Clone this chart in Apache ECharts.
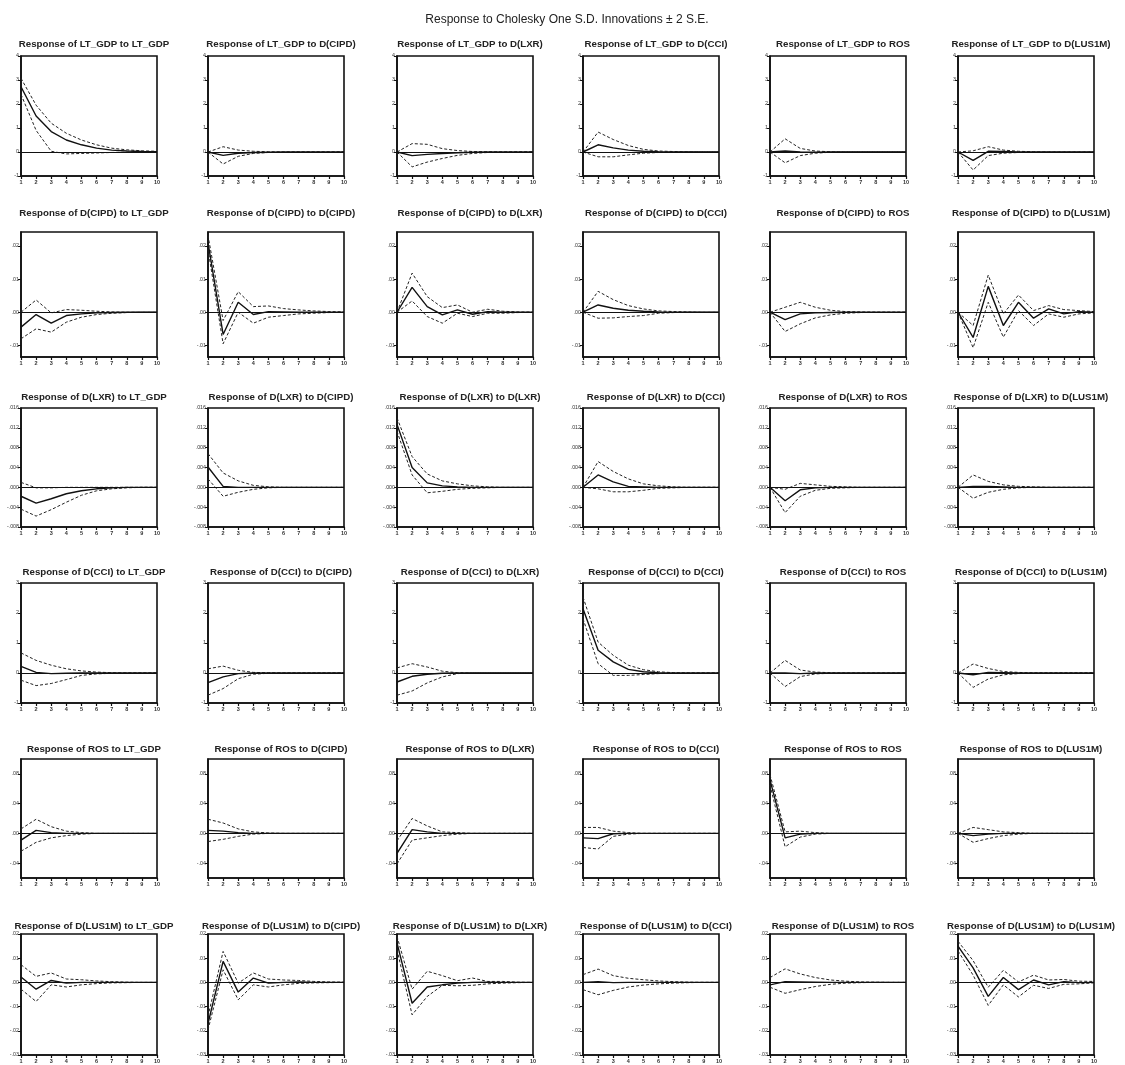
<!DOCTYPE html>
<html>
<head>
<meta charset="utf-8">
<script src="https://cdn.jsdelivr.net/npm/echarts@6/dist/echarts.min.js"></script>
<style>html,body{margin:0;padding:0;background:#fff;}#c{width:1125px;height:1065px;}</style>
</head>
<body>
<div id="c"></div>
<script>
// ---------- DATA ----------
var variables = ['LT_GDP', 'D(CIPD)', 'D(LXR)', 'D(CCI)', 'ROS', 'D(LUS1M)'];
var periods = [1, 2, 3, 4, 5, 6, 7, 8, 9, 10];
var mainTitle = 'Response to Cholesky One S.D. Innovations \u00B1 2 S.E.';

// Response of LT_GDP to each shock (rows of 10 periods, one per shock)
var resp_LT_GDP = [
  [2.72, 1.5, 0.85, 0.5, 0.3, 0.16, 0.08, 0.04, 0.02, 0.01],
  [0, -0.14, -0.05, -0.02, -0.01, 0, 0, 0, 0, 0],
  [0, -0.15, -0.1, -0.06, -0.03, -0.01, 0, 0, 0, 0],
  [0, 0.3, 0.17, 0.08, 0.03, 0.01, 0, 0, 0, 0],
  [0, 0.04, 0.0, -0.01, 0, 0, 0, 0, 0, 0],
  [0, -0.35, 0.03, 0.02, 0.0, 0, 0, 0, 0, 0]
];
var upper_LT_GDP = [
  [3.07, 1.95, 1.2, 0.78, 0.5, 0.3, 0.16, 0.09, 0.05, 0.03],
  [0, 0.22, 0.08, 0.03, 0.01, 0, 0, 0, 0, 0],
  [0, 0.35, 0.32, 0.14, 0.06, 0.02, 0.01, 0, 0, 0],
  [0, 0.83, 0.52, 0.27, 0.11, 0.04, 0.02, 0.01, 0, 0],
  [0, 0.55, 0.15, 0.04, 0.01, 0, 0, 0, 0, 0],
  [0, 0.05, 0.22, 0.08, 0.03, 0.01, 0, 0, 0, 0]
];
var lower_LT_GDP = [
  [2.4, 0.9, 0.03, -0.08, -0.06, -0.04, -0.02, -0.01, 0, 0],
  [0, -0.5, -0.18, -0.06, -0.02, -0.01, 0, 0, 0, 0],
  [0, -0.62, -0.42, -0.27, -0.14, -0.06, -0.02, -0.01, 0, 0],
  [0, -0.2, -0.2, -0.12, -0.05, -0.02, -0.01, 0, 0, 0],
  [0, -0.45, -0.15, -0.05, -0.01, 0, 0, 0, 0, 0],
  [0, -0.75, -0.15, -0.05, -0.02, -0.01, 0, 0, 0, 0]
];

var resp_D_CIPD = [
  [-0.0045, -0.0007, -0.0033, -0.001, -0.0005, -0.0002, -0.0001, 0, 0, 0],
  [0.021, -0.0067, 0.003, -0.0007, 0.0002, 0.0001, 0, 0, 0, 0],
  [0, 0.0075, 0.0017, -0.0008, 0.0007, -0.0006, 0.0002, 0, 0, 0],
  [0, 0.0022, 0.0012, 0.0006, 0.0003, 0.0001, 0, 0, 0, 0],
  [0, -0.0022, -0.0005, -0.0002, -0.0001, 0, 0, 0, 0, 0],
  [0, -0.0076, 0.0078, -0.004, 0.003, -0.0018, 0.001, -0.0005, 0.0002, 0]
];
var upper_D_CIPD = [
  [0, 0.0037, -0.0002, 0.0008, 0.0006, 0.0003, 0.0001, 0, 0, 0],
  [0.0232, -0.0025, 0.0062, 0.0017, 0.0019, 0.0011, 0.0007, 0.0004, 0.0002, 0.0001],
  [0, 0.0118, 0.0047, 0.0014, 0.0022, 0.0, 0.0009, 0.0003, 0.0001, 0],
  [0, 0.0063, 0.0038, 0.002, 0.001, 0.0004, 0.0002, 0.0001, 0, 0],
  [0, 0.0015, 0.003, 0.0015, 0.0006, 0.0002, 0.0001, 0, 0, 0],
  [0, -0.004, 0.0112, -0.0005, 0.0052, 0.0005, 0.002, 0.0008, 0.0005, 0.0002]
];
var lower_D_CIPD = [
  [-0.008, -0.005, -0.006, -0.003, -0.0015, -0.0007, -0.0003, -0.0001, 0, 0],
  [0.019, -0.0095, 0.0, -0.0033, -0.0015, -0.001, -0.0005, -0.0003, -0.0001, 0],
  [0, 0.0034, -0.0013, -0.0033, -0.0003, -0.0013, -0.0003, -0.0003, -0.0001, 0],
  [0, -0.0018, -0.0017, -0.0013, -0.001, -0.0003, -0.0001, 0, 0, 0],
  [0, -0.0058, -0.0035, -0.0017, -0.0008, -0.0003, -0.0001, 0, 0, 0],
  [0, -0.0107, 0.003, -0.0075, 0.0005, -0.004, -0.0005, -0.0015, -0.0005, -0.0002]
];

var resp_D_LXR = [
  [-0.0018, -0.0032, -0.0023, -0.0013, -0.0007, -0.0003, -0.0001, 0, 0, 0],
  [0.0041, 0.0002, 0, 0, 0, 0, 0, 0, 0, 0],
  [0.0127, 0.004, 0.0009, 0.0003, 0.0001, 0, 0, 0, 0, 0],
  [0, 0.0025, 0.0011, 0.0002, 0.0001, 0, 0, 0, 0, 0],
  [0, -0.0027, -0.0005, -0.0001, 0, 0, 0, 0, 0, 0],
  [0, 0.0002, 0.0002, 0.0001, 0, 0, 0, 0, 0, 0]
];
var upper_D_LXR = [
  [0.001, -0.0001, -0.0001, 0, 0, 0, 0, 0, 0, 0],
  [0.0068, 0.0029, 0.0013, 0.0004, 0.0001, 0, 0, 0, 0, 0],
  [0.014, 0.0062, 0.0027, 0.0013, 0.0007, 0.0003, 0.0001, 0, 0, 0],
  [0, 0.0052, 0.0032, 0.0017, 0.0007, 0.0003, 0.0001, 0, 0, 0],
  [0, -0.0004, 0.0008, 0.0005, 0.0002, 0.0001, 0, 0, 0, 0],
  [0, 0.0025, 0.0012, 0.0005, 0.0002, 0.0001, 0, 0, 0, 0]
];
var lower_D_LXR = [
  [-0.0044, -0.0058, -0.0045, -0.003, -0.0016, -0.0007, -0.0003, -0.0001, 0, 0],
  [0.0017, -0.0018, -0.001, -0.0004, -0.0001, 0, 0, 0, 0, 0],
  [0.0113, 0.0025, -0.0011, -0.0008, -0.0004, -0.0002, -0.0001, 0, 0, 0],
  [0, -0.0003, -0.0009, -0.0009, -0.0006, -0.0002, -0.0001, 0, 0, 0],
  [0, -0.0051, -0.0018, -0.0006, -0.0002, -0.0001, 0, 0, 0, 0],
  [0, -0.0022, -0.001, -0.0004, -0.0001, 0, 0, 0, 0, 0]
];

var resp_D_CCI = [
  [0.22, 0.02, -0.02, -0.01, 0, 0, 0, 0, 0, 0],
  [-0.32, -0.13, -0.02, 0, 0, 0, 0, 0, 0, 0],
  [-0.3, -0.11, -0.04, -0.01, 0, 0, 0, 0, 0, 0],
  [2.14, 0.76, 0.37, 0.12, 0.04, 0.01, 0, 0, 0, 0],
  [0, 0.0, -0.02, 0, 0, 0, 0, 0, 0, 0],
  [0, -0.06, 0.02, 0.01, 0, 0, 0, 0, 0, 0]
];
var upper_D_CCI = [
  [0.67, 0.42, 0.26, 0.14, 0.07, 0.03, 0.01, 0, 0, 0],
  [0.14, 0.23, 0.09, 0.02, 0.01, 0, 0, 0, 0, 0],
  [0.17, 0.31, 0.2, 0.06, 0.01, 0, 0, 0, 0, 0],
  [2.53, 1.03, 0.59, 0.26, 0.11, 0.04, 0.01, 0, 0, 0],
  [0, 0.42, 0.1, 0.03, 0.01, 0, 0, 0, 0, 0],
  [0, 0.3, 0.15, 0.05, 0.02, 0, 0, 0, 0, 0]
];
var lower_D_CCI = [
  [-0.24, -0.42, -0.35, -0.22, -0.08, -0.03, -0.01, 0, 0, 0],
  [-0.74, -0.52, -0.19, -0.04, -0.01, 0, 0, 0, 0, 0],
  [-0.74, -0.6, -0.33, -0.13, -0.02, 0, 0, 0, 0, 0],
  [1.81, 0.31, -0.08, -0.08, -0.05, -0.02, -0.01, 0, 0, 0],
  [0, -0.45, -0.12, -0.03, -0.01, 0, 0, 0, 0, 0],
  [0, -0.48, -0.2, -0.06, -0.02, 0, 0, 0, 0, 0]
];

var resp_ROS = [
  [-0.009, 0.004, 0.001, 0, 0, 0, 0, 0, 0, 0],
  [0.004, 0.003, 0.001, 0, 0, 0, 0, 0, 0, 0],
  [-0.027, 0.005, 0.002, 0, 0, 0, 0, 0, 0, 0],
  [-0.006, -0.007, -0.0005, 0, 0, 0, 0, 0, 0, 0],
  [0.072, -0.006, -0.001, 0, 0, 0, 0, 0, 0, 0],
  [0, -0.003, -0.001, 0, 0, 0, 0, 0, 0, 0]
];
var upper_ROS = [
  [0.006, 0.019, 0.009, 0.003, 0.001, 0, 0, 0, 0, 0],
  [0.019, 0.014, 0.006, 0.002, 0.0005, 0, 0, 0, 0, 0],
  [-0.01, 0.02, 0.01, 0.002, 0.001, 0, 0, 0, 0, 0],
  [0.008, 0.008, 0.003, 0.001, 0, 0, 0, 0, 0, 0],
  [0.079, 0.002, 0.003, 0.001, 0, 0, 0, 0, 0, 0],
  [0, 0.008, 0.005, 0.002, 0.001, 0, 0, 0, 0, 0]
];
var lower_ROS = [
  [-0.024, -0.012, -0.006, -0.003, -0.001, 0, 0, 0, 0, 0],
  [-0.011, -0.008, -0.004, -0.001, 0, 0, 0, 0, 0, 0],
  [-0.041, -0.009, -0.006, -0.003, -0.001, 0, 0, 0, 0, 0],
  [-0.019, -0.021, -0.004, -0.001, 0, 0, 0, 0, 0, 0],
  [0.065, -0.018, -0.005, -0.001, 0, 0, 0, 0, 0, 0],
  [0, -0.012, -0.007, -0.003, -0.001, 0, 0, 0, 0, 0]
];

var resp_D_LUS1M = [
  [0.0022, -0.0028, 0.0008, -0.0003, 0, 0, 0, 0, 0, 0],
  [-0.017, 0.0087, -0.004, 0.0018, -0.0003, 0, 0.0002, 0, 0, 0],
  [0.0163, -0.0086, -0.0019, -0.001, -0.0003, 0, 0.0001, 0, 0, 0],
  [0, 0.0003, -0.0001, 0, 0, 0, 0, 0, 0, 0],
  [-0.001, 0.0003, 0.0002, 0.0001, 0, 0, 0, 0, 0, 0],
  [0.015, 0.006, -0.0058, 0.002, -0.003, 0.001, -0.001, 0.0003, -0.0001, 0]
];
var upper_D_LUS1M = [
  [0.0073, 0.0025, 0.0039, 0.0014, 0.0011, 0.0006, 0.0003, 0.0001, 0, 0],
  [-0.014, 0.0128, -0.0003, 0.0039, 0.0014, 0.001, 0.0008, 0.0004, 0.0002, 0.0001],
  [0.019, -0.0028, 0.0046, 0.0028, 0.0007, 0.0018, 0.0004, 0.0004, 0.0001, 0],
  [0.0032, 0.0055, 0.0028, 0.0017, 0.0011, 0.0006, 0.0003, 0.0001, 0, 0],
  [0.002, 0.0056, 0.0035, 0.002, 0.001, 0.0005, 0.0002, 0.0001, 0, 0],
  [0.017, 0.009, -0.002, 0.005, 0.0002, 0.003, 0.001, 0.0012, 0.0005, 0.0004]
];
var lower_D_LUS1M = [
  [-0.0028, -0.0079, -0.001, -0.0019, -0.001, -0.0005, -0.0002, -0.0001, 0, 0],
  [-0.0196, 0.0052, -0.0072, -0.001, -0.0019, -0.001, -0.0004, -0.0002, -0.0001, 0],
  [0.0135, -0.0134, -0.0058, -0.0012, -0.0014, -0.0012, -0.0006, -0.0003, -0.0001, 0],
  [-0.003, -0.0051, -0.0033, -0.0019, -0.0011, -0.0006, -0.0003, -0.0001, 0, 0],
  [-0.002, -0.0045, -0.003, -0.0017, -0.0008, -0.0003, -0.0001, 0, 0, 0],
  [0.013, 0.003, -0.0095, -0.001, -0.006, -0.0012, -0.0025, -0.0008, -0.0006, -0.0002]
];

// y-axis ranges and tick labels for each responding variable
var yMin = [-1, -0.0135, -0.008, -1, -0.06, -0.03];
var yMax = [4, 0.0242, 0.016, 3, 0.10, 0.02];
var yTicks = [
  [-1, 0, 1, 2, 3, 4],
  [-0.01, 0, 0.01, 0.02],
  [-0.008, -0.004, 0, 0.004, 0.008, 0.012, 0.016],
  [-1, 0, 1, 2, 3],
  [-0.04, 0, 0.04, 0.08],
  [-0.03, -0.02, -0.01, 0, 0.01, 0.02]
];
var yTickLabels = [
  ['-1', '0', '1', '2', '3', '4'],
  ['-.01', '.00', '.01', '.02'],
  ['-.008', '-.004', '.000', '.004', '.008', '.012', '.016'],
  ['-1', '0', '1', '2', '3'],
  ['-.04', '.00', '.04', '.08'],
  ['-.03', '-.02', '-.01', '.00', '.01', '.02']
];

// ---------- BUILD ----------
var RESP = [resp_LT_GDP, resp_D_CIPD, resp_D_LXR, resp_D_CCI, resp_ROS, resp_D_LUS1M];
var UPPER = [upper_LT_GDP, upper_D_CIPD, upper_D_LXR, upper_D_CCI, upper_ROS, upper_D_LUS1M];
var LOWER = [lower_LT_GDP, lower_D_CIPD, lower_D_LXR, lower_D_CCI, lower_ROS, lower_D_LUS1M];

var colLeft = [21, 208, 397, 583, 770, 958];
var panelW = 136;
var rowTop = [56, 232, 408, 583, 759, 934];
var rowH = [120, 125, 119, 120, 119, 121];
var titleY = [40, 209, 393, 568, 745, 922];

var grids = [], xAxes = [], yAxes = [], series = [], titles = [];
titles.push({
  text: mainTitle, left: 562, top: 9, textAlign: 'center',
  textStyle: {fontFamily: 'Liberation Sans', fontSize: 12, fontWeight: 'normal', color: '#222'}
});

function pairs(arr) {
  return arr.map(function (v, i) { return [periods[i], v]; });
}

for (var r = 0; r < 6; r++) {
  for (var c = 0; c < 6; c++) {
    var idx = r * 6 + c;
    grids.push({
      left: colLeft[c], top: rowTop[r], width: panelW, height: rowH[r],
      show: true, borderColor: '#111', borderWidth: 1.6, backgroundColor: '#fff', containLabel: false
    });
    titles.push({
      text: 'Response of ' + variables[r] + ' to ' + variables[c],
      left: colLeft[c] + panelW / 2, top: titleY[r] - 6, textAlign: 'center',
      textStyle: {fontFamily: 'Liberation Sans', fontSize: 9.7, fontWeight: 'bold', color: '#222'}
    });
    xAxes.push({
      type: 'value', gridIndex: idx, min: 1, max: 10, interval: 1,
      axisLine: {show: true, onZero: false, lineStyle: {color: '#111', width: 1.6}},
      axisTick: {show: true, length: 3, lineStyle: {color: '#111', width: 1.2}},
      axisLabel: {fontSize: 5.5, color: '#333', margin: 3, fontFamily: 'Liberation Sans', fontWeight: 'bold'},
      splitLine: {show: false}
    });
    (function (rr) {
      yAxes.push({
        type: 'value', gridIndex: idx, min: yMin[rr], max: yMax[rr],
        axisLine: {show: true, onZero: false, lineStyle: {color: '#111', width: 1.6}},
        axisTick: {show: true, length: 3, customValues: yTicks[rr], lineStyle: {color: '#111', width: 1}},
        axisLabel: {
          fontSize: 5.3, color: '#333', margin: 2, fontFamily: 'Liberation Sans', customValues: yTicks[rr],
          formatter: function (v) {
            var best = 0, d = Infinity;
            for (var k = 0; k < yTicks[rr].length; k++) {
              var dd = Math.abs(yTicks[rr][k] - v);
              if (dd < d) { d = dd; best = k; }
            }
            return yTickLabels[rr][best];
          }
        },
        splitLine: {show: false}
      });
    })(r);
    series.push({
      type: 'line', xAxisIndex: idx, yAxisIndex: idx, data: pairs(RESP[r][c]),
      symbol: 'none', silent: true, z: 4,
      lineStyle: {color: '#111', width: 1.4, type: 'solid'},
      markLine: {
        silent: true, symbol: ['none', 'none'], label: {show: false},
        lineStyle: {color: '#111', width: 1, type: 'solid'},
        data: [{yAxis: 0}], animation: false
      }
    });
    series.push({
      type: 'line', xAxisIndex: idx, yAxisIndex: idx, data: pairs(UPPER[r][c]),
      symbol: 'none', silent: true, z: 3,
      lineStyle: {color: '#222', width: 1, type: [3, 2]}
    });
    series.push({
      type: 'line', xAxisIndex: idx, yAxisIndex: idx, data: pairs(LOWER[r][c]),
      symbol: 'none', silent: true, z: 3,
      lineStyle: {color: '#222', width: 1, type: [3, 2]}
    });
  }
}

var chart = echarts.init(document.getElementById('c'), null, {renderer: 'canvas'});
chart.setOption({
  animation: false,
  backgroundColor: '#fff',
  title: titles,
  grid: grids,
  xAxis: xAxes,
  yAxis: yAxes,
  series: series
});
</script>
</body>
</html>
